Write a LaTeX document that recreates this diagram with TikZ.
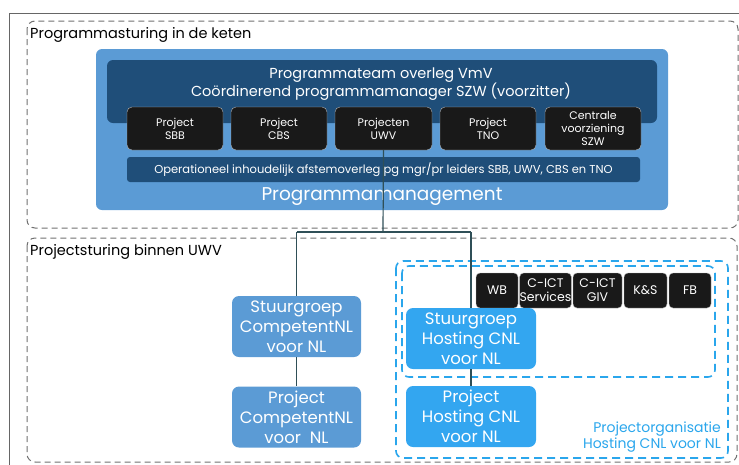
\documentclass[tikz,border=0pt]{standalone}
\usepackage{fontspec}
\setmainfont{Poppins}
\definecolor{pmblue}{HTML}{5B9BD5}
\definecolor{pmdark}{HTML}{1F4E79}
\definecolor{hostblue}{HTML}{33A6F0}
\definecolor{dashblue}{HTML}{2AA6EC}
\definecolor{linecol}{HTML}{2F4F57}
\definecolor{framegrey}{HTML}{707070}
\newcommand{\fs}[2]{\fontsize{#1}{#2}\selectfont}
\tikzset{
  region/.style={draw=framegrey, line width=1pt, dash pattern=on 6pt off 4pt, rounded corners=8pt},
  bluedash/.style={draw=dashblue, line width=1.6pt, dash pattern=on 8pt off 5pt, rounded corners=7pt},
  projbox/.style={draw=gray!60, fill=black!90, rounded corners=5pt, text=white, align=center, inner sep=0pt, font=\fs{11}{13}},
  unitbox/.style={draw=gray!60, fill=black!90, rounded corners=4pt, text=white, align=center, inner sep=0pt, font=\fs{12.5}{14}},
  cnlbox/.style={fill=pmblue, rounded corners=7pt, text=white, align=center, inner sep=0pt, font=\fs{16.5}{20}, minimum width=129pt, minimum height=61pt},
  hostbox/.style={fill=hostblue, rounded corners=7pt, text=white, align=center, inner sep=0pt, font=\fs{16.5}{20}, minimum width=130pt, minimum height=61pt},
  conn/.style={draw=linecol, line width=1.2pt},
  lbl/.style={anchor=base west, inner sep=0pt, font=\fs{14.5}{16}}
}
\begin{document}
\begin{tikzpicture}[x=1pt,y=-1pt]
\useasboundingbox (0,0) rectangle (739,464);
\clip (0,0) rectangle (739,464);
% outer frame
\draw[draw=gray!80!black, line width=1pt] (9,13) rectangle (760,480);
% region 1
\draw[region] (27,21) rectangle (738,228);
\node[lbl] (l1) at (30,38) {Programmasturing in de keten};
% programmanagement
\node[fill=pmblue, rounded corners=6pt, minimum width=572pt, minimum height=161pt, inner sep=0pt] (pm) at (382,129.5) {};
\node[fill=pmdark, rounded corners=6pt, minimum width=550pt, minimum height=63pt, inner sep=0pt] (team) at (382,91.5) {};
\node[text=white, align=center, font=\fs{14.5}{17}, inner sep=0pt] (teamtxt) at (381,84) {Programmateam overleg VmV\\Coördinerend programmamanager SZW (voorzitter)};
\node[projbox, minimum width=96pt, minimum height=43pt] (sbb) at (175,128.5) {Project\\SBB};
\node[projbox, minimum width=96pt, minimum height=43pt] (cbs) at (279,128.5) {Project\\CBS};
\node[projbox, minimum width=97pt, minimum height=43pt] (uwv) at (383.5,128.5) {Projecten\\UWV};
\node[projbox, minimum width=96pt, minimum height=43pt] (tno) at (488,128.5) {Project\\TNO};
\node[projbox, minimum width=96pt, minimum height=43pt] (szw) at (593,128.5) {Centrale\\voorziening\\SZW};
\node[fill=pmdark, rounded corners=3pt, minimum width=513pt, minimum height=25pt, inner sep=0pt, text=white, font=\fs{11.5}{13}] (oper) at (383.5,169.5) {Operationeel inhoudelijk afstemoverleg pg mgr/pr leiders SBB, UWV, CBS en TNO};
\node[text=white, font=\fs{18.5}{21}, inner sep=0pt] (pmtxt) at (382,197) {Programmamanagement};
% region 2
\draw[region] (27,238) rectangle (737,462);
\node[lbl] (l2) at (30,255) {Projectsturing binnen UWV};
% blue dashed boxes
\draw[bluedash] (396,261) rectangle (728,458);
\draw[bluedash] (402,266) rectangle (715,377);
\node[text=dashblue, align=right, anchor=east, inner sep=0pt, font=\fs{14}{16.5}] (potxt) at (721,437) {Projectorganisatie\\Hosting CNL voor NL};
% connectors
\coordinate (j) at (383,232);
\coordinate (jl) at (296.5,232);
\coordinate (jr) at (471,232);
\draw[conn] (uwv.south) -- (j);
\draw[conn] (jl) -- (jr);
% unit boxes
\node[unitbox, minimum width=42pt, minimum height=35pt] (wb) at (497,290.5) {WB};
\node[unitbox, minimum width=49pt, minimum height=35pt] (cict) at (545.5,290.5) {C-ICT\\Services};
\node[unitbox, minimum width=49pt, minimum height=35pt] (giv) at (597.5,290.5) {C-ICT\\GIV};
\node[unitbox, minimum width=43pt, minimum height=35pt] (ks) at (645.5,290.5) {K\&S};
\node[unitbox, minimum width=42pt, minimum height=35pt] (fb) at (690,290.5) {FB};
% CNL nodes
\node[cnlbox] (scnl) at (296.5,326.5) {Stuurgroep\\CompetentNL\\voor NL};
\node[cnlbox] (pcnl) at (296.5,417) {Project\\CompetentNL\\voor~~NL};
\node[hostbox] (shost) at (471,338.5) {Stuurgroep\\Hosting CNL\\voor NL};
\node[hostbox] (phost) at (471,416.5) {Project\\Hosting CNL\\voor NL};
\draw[conn] (jl) -- (scnl.north);
\draw[conn] (jr) -- (shost.north);
\draw[conn] (scnl.south) -- (pcnl.north);
\draw[conn] (shost.south) -- (phost.north);
\end{tikzpicture}
\end{document}
